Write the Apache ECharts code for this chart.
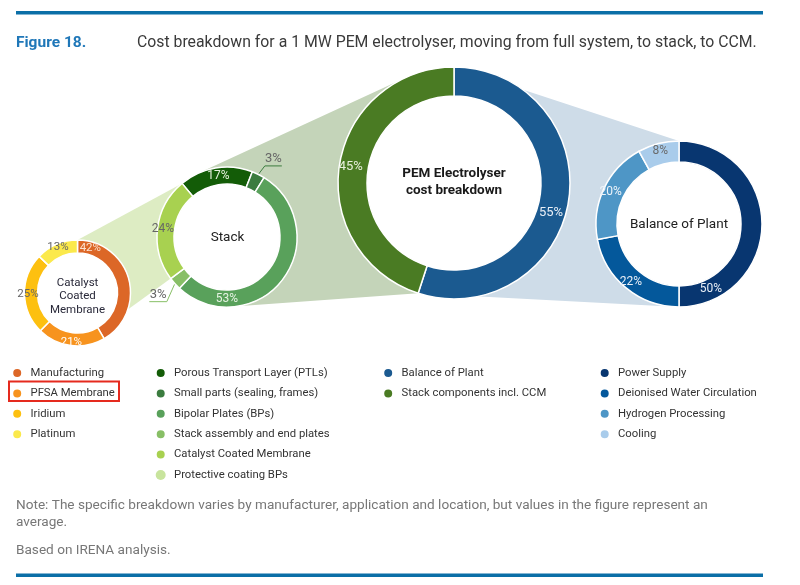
<!DOCTYPE html>
<html><head><meta charset="utf-8">
<script src="https://cdn.jsdelivr.net/npm/echarts@6/dist/echarts.min.js"></script>
<style>html,body{margin:0;padding:0;background:#fff}#c{width:800px;height:585px}</style>
</head><body><div id="c"></div>
<script>
// ---------- DATA ----------
const ccmNames = ['Manufacturing', 'PFSA Membrane', 'Iridium', 'Platinum'];
const ccmValues = [42, 21, 25, 13];
const stackNames = ['Porous Transport Layer (PTLs)', 'Small parts (sealing, frames)', 'Bipolar Plates (BPs)',
  'Stack assembly and end plates', 'Catalyst Coated Membrane', 'Protective coating BPs'];
const stackValues = [17, 3, 53, 3, 24, 0];
const mainNames = ['Balance of Plant', 'Stack components incl. CCM'];
const mainValues = [55, 45];
const bopNames = ['Power Supply', 'Deionised Water Circulation', 'Hydrogen Processing', 'Cooling'];
const bopValues = [50, 22, 20, 8];

const titleLabel = 'Figure 18.';
const titleText = 'Cost breakdown for a 1 MW PEM electrolyser, moving from full system, to stack, to CCM.';
const noteLines = ['Note: The specific breakdown varies by manufacturer, application and location, but values in the figure represent an', 'average.'];
const sourceText = 'Based on IRENA analysis.';
const centerTexts = { ccm: 'Catalyst\nCoated\nMembrane', stack: 'Stack', main: 'PEM Electrolyser\ncost breakdown', bop: 'Balance of Plant' };

// ---------- STYLE / LAYOUT ----------
const FONT = 'Roboto, "Open Sans", sans-serif';
const ccmColors = ['#dc6727', '#f7931e', '#fdc010', '#fbe94c'];
const stackColors = ['#135c07', '#3b7c3f', '#59a15b', '#88bf66', '#a8d150', '#c8e49d'];
const mainColors = ['#1b5a90', '#4a7b23'];
const bopColors = ['#083670', '#04589b', '#4e96c6', '#a9cceb'];
const ccmLabelColors = ['#fbe3d3', '#ffffff', '#666666', '#666666'];
const stackLabelColors = ['#e6f0dc', '#666666', '#e6f3e3', '#666666', '#666666', '#666666'];
const mainLabelColors = ['#e8eef6', '#e8f0dc'];
const bopLabelColors = ['#e8eef6', '#e8eef6', '#eef4fa', '#6a6a6a'];

const GEO = {
  ccm:   { c: [77.5, 293], r: [40, 53], start: 0 },
  stack: { c: [227, 237], r: [53, 70], start: -40 },
  main:  { c: [454, 183], r: [87, 116], start: 0 },
  bop:   { c: [679, 224], r: [62, 83], start: 0 }
};
// label angle overrides (degrees clockwise from 12 o'clock)
const LABEL_ANGLE = { 'Manufacturing': 16, 'Bipolar Plates (BPs)': 180, 'Balance of Plant': 107, 'Power Supply': 154,
  'Porous Transport Layer (PTLs)': -8 };
const OUT_LABEL = {
  'Small parts (sealing, frames)': { elbow: [6.5, -8.5], run: 17, lift: 7.5 },
  'Stack assembly and end plates': { elbow: [-8, 18], run: -17.5, lift: 6.5 }
};

function polar(c, r, a) {
  const t = a * Math.PI / 180;
  return [c[0] + r * Math.sin(t), c[1] - r * Math.cos(t)];
}
function segAngles(values, start) {
  const tot = values.reduce((s, v) => s + v, 0);
  let acc = start; const out = [];
  values.forEach(v => { const a0 = acc; acc += v / tot * 360; out.push([a0, acc]); });
  return out;
}
function extTangentTop(c1, r1, c2, r2) {
  const dx = c2[0] - c1[0], dy = c2[1] - c1[1];
  const d = Math.hypot(dx, dy), base = Math.atan2(dy, dx), a = Math.acos((r1 - r2) / d);
  for (const ang of [base + a, base - a]) {
    const n = [Math.cos(ang), Math.sin(ang)];
    if (n[1] < 0) return [[c1[0] + r1 * n[0], c1[1] + r1 * n[1]], [c2[0] + r2 * n[0], c2[1] + r2 * n[1]]];
  }
}

function layoutFor(key, names, values) {
  const g = GEO[key]; const segs = segAngles(values, g.start);
  return function (p) {
    const name = names[p.dataIndex];
    const rect = p.labelRect;
    let tx, ty, pts = null;
    if (LABEL_ANGLE[name] != null) {
      [tx, ty] = polar(g.c, (g.r[0] + g.r[1]) / 2, LABEL_ANGLE[name]);
    } else if (OUT_LABEL[name]) {
      const o = OUT_LABEL[name]; const s = segs[p.dataIndex];
      const p0 = polar(g.c, g.r[1], (s[0] + s[1]) / 2);
      const p1 = [p0[0] + o.elbow[0], p0[1] + o.elbow[1]];
      const p2 = [p1[0] + o.run, p1[1]];
      tx = (p1[0] + p2[0]) / 2; ty = p1[1] - o.lift;
      pts = [p0, p1, p2];
    } else return;
    const w = rect.width, h = rect.height;
    const x = p.align === 'left' ? tx - w / 2 : p.align === 'right' ? tx + w / 2 : tx;
    const y = p.verticalAlign === 'top' ? ty - h / 2 : p.verticalAlign === 'bottom' ? ty + h / 2 : ty;
    const out = { x: x, y: y };
    if (pts) out.labelLinePoints = pts;
    return out;
  };
}

function pieSeries(key, names, values, colors, labelColors, fontSize) {
  const g = GEO[key];
  return {
    type: 'pie', name: key, z: 2,
    center: g.c, radius: g.r,
    startAngle: 90 - g.start, clockwise: true,
    avoidLabelOverlap: false, silent: true,
    itemStyle: { borderColor: '#ffffff', borderWidth: 1.5 },
    label: { show: true, position: 'inside', formatter: '{c}%', fontFamily: FONT, fontSize: fontSize },
    labelLine: { show: false },
    labelLayout: layoutFor(key, names, values),
    emphasis: { disabled: true },
    data: names.map((n, i) => {
      const d = { name: n, value: values[i], itemStyle: { color: colors[i] }, label: { color: labelColors[i] } };
      if (values[i] === 0) { d.label.show = false; d.itemStyle.borderWidth = 0; }
      if (OUT_LABEL[n]) {
        d.label.position = 'outside';
        d.label.color = '#666666';
        d.label.fontSize = 13;
        d.labelLine = { show: true, length: 8, length2: 12, lineStyle: { width: 1, color: colors[i] } };
      }
      return d;
    })
  };
}

// ---------- funnels ----------
const mainSegs = segAngles(mainValues, GEO.main.start);
const stackSegs = segAngles(stackValues, GEO.stack.start);
const M = GEO.main, S = GEO.stack, C = GEO.ccm, B = GEO.bop;
const bluePoly = [M.c, polar(M.c, M.r[1], mainSegs[0][0]), [B.c[0], B.c[1] - B.r[1]], [B.c[0], B.c[1] + B.r[1]], polar(M.c, M.r[1], mainSegs[0][1])];
const tan = extTangentTop(M.c, M.r[1], S.c, S.r[1]);
const greenPoly = [M.c, polar(M.c, M.r[1], mainSegs[1][0]), [S.c[0], S.c[1] + S.r[1]], S.c, tan[1], tan[0]];
const ccmIdx = stackNames.indexOf('Catalyst Coated Membrane');
const lgPoly = [S.c, polar(S.c, S.r[1], stackSegs[ccmIdx][1]), [C.c[0], C.c[1] - C.r[1]], [C.c[0], C.c[1] + C.r[1]], polar(S.c, S.r[1], stackSegs[ccmIdx][0])];

function txt(x, y, text, size, color, weight, align, lh) {
  return { type: 'text', x: x, y: y, z: 5, silent: true,
    style: { text: text, fill: color, fontSize: size, fontFamily: FONT, fontWeight: weight || 'normal',
      align: align || 'left', verticalAlign: 'middle', textAlign: align || 'left', textVerticalAlign: 'middle', lineHeight: lh || size * 1.2 } };
}

const graphics = [
  { type: 'rect', shape: { x: 16, y: 11, width: 747, height: 3.5 }, style: { fill: '#0b6fa7' }, silent: true },
  { type: 'rect', shape: { x: 16, y: 573.5, width: 747, height: 3.5 }, style: { fill: '#0b6fa7' }, silent: true },
  txt(16, 43, titleLabel, 15.5, '#1f77b8', 'bold'),
  txt(137, 43, titleText, 15.8, '#3a3a3a'),
  { type: 'polygon', z: 0, silent: true, shape: { points: bluePoly }, style: { fill: '#cedce8' } },
  { type: 'polygon', z: 0, silent: true, shape: { points: greenPoly }, style: { fill: '#c4d4b9' } },
  { type: 'polygon', z: 0, silent: true, shape: { points: lgPoly }, style: { fill: '#ddecc3' } },
  ...[C, S, M, B].map(g => ({ type: 'circle', z: 1, silent: true, shape: { cx: g.c[0], cy: g.c[1], r: g.r[1] }, style: { fill: '#ffffff' } })),
  txt(C.c[0], 296.5, centerTexts.ccm, 11.5, '#2a2a3a', 'normal', 'center', 13.5),
  txt(S.c[0] + 0.5, 237.5, centerTexts.stack, 13.5, '#222222', 'normal', 'center'),
  txt(M.c[0], 182, centerTexts.main, 13.5, '#1a1a1a', 'bold', 'center', 17),
  txt(B.c[0], 225, centerTexts.bop, 13.5, '#222222', 'normal', 'center'),
  txt(16, 506, noteLines[0], 13.6, '#777777'),
  txt(16, 523, noteLines[1], 13.6, '#777777'),
  txt(16, 551, sourceText, 13.6, '#777777'),
  { type: 'rect', z: 5, silent: true, shape: { x: 9, y: 381.5, width: 110, height: 19.5 }, style: { fill: 'none', stroke: '#e52a1e', lineWidth: 2 } }
];

function legendCol(names, cx, top) {
  return { data: names, orient: 'vertical', left: cx - 8.3, top: top, padding: 0, icon: 'circle',
    itemWidth: 16.6, itemHeight: 10, itemGap: 6.4, selectedMode: false,
    textStyle: { fontFamily: FONT, fontSize: 11.3, color: '#333333', lineHeight: 14 } };
}

const chart = echarts.init(document.getElementById('c'), null, { renderer: 'canvas' });
chart.setOption({
  animation: false,
  backgroundColor: '#ffffff',
  legend: [
    legendCol(ccmNames, 19.5, 366),
    legendCol(stackNames, 163, 366),
    legendCol(mainNames, 390.5, 366),
    legendCol(bopNames, 607, 366)
  ],
  graphic: { elements: graphics },
  series: [
    pieSeries('main', mainNames, mainValues, mainColors, mainLabelColors, 13),
    pieSeries('bop', bopNames, bopValues, bopColors, bopLabelColors, 12),
    pieSeries('stack', stackNames, stackValues, stackColors, stackLabelColors, 12),
    pieSeries('ccm', ccmNames, ccmValues, ccmColors, ccmLabelColors, 11.5)
  ]
});
</script></body></html>
